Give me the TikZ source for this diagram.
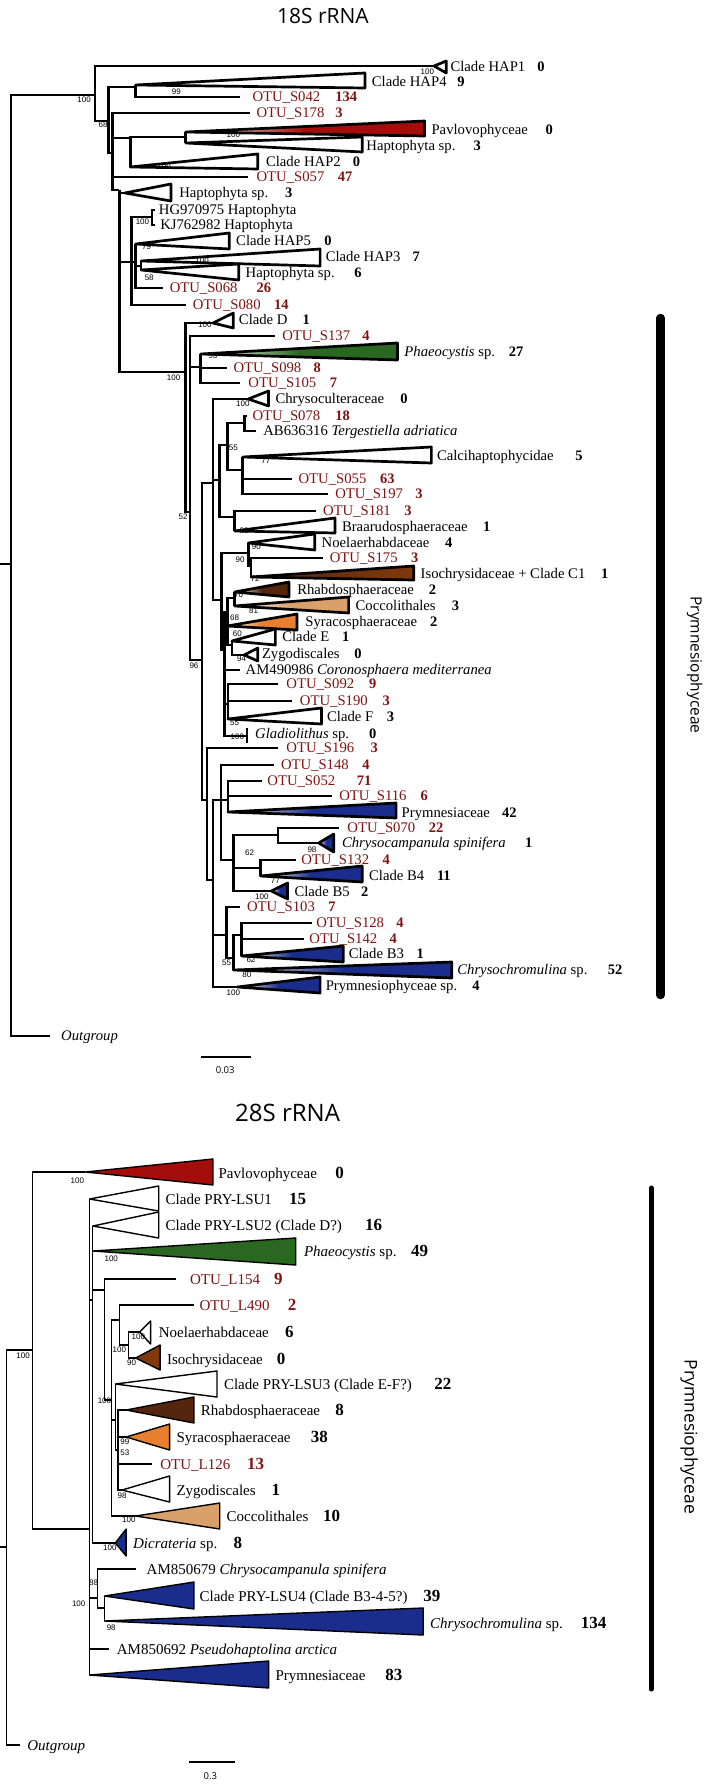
\documentclass[tikz,border=0pt]{standalone}
\usepackage{fontspec}
\setmainfont{Liberation Serif}
\newfontfamily\bsfont{Liberation Sans}
\newfontfamily\ttlfont{Open Sans}
\newfontfamily\grpfont{Open Sans}
\usetikzlibrary{positioning}

\definecolor{otured}{RGB}{128,18,18}
\definecolor{pavred}{RGB}{165,12,12}
\definecolor{phagreen}{RGB}{42,104,34}
\definecolor{isobrown}{RGB}{128,56,14}
\definecolor{rhabrown}{RGB}{84,38,14}
\definecolor{coctan}{RGB}{218,160,105}
\definecolor{syrorange}{RGB}{232,126,48}
\definecolor{prmblue}{RGB}{26,44,140}

\begin{document}
\begin{tikzpicture}[
        x=1.3565pt, y=-1pt,
        br/.style={line width=2.7pt, line join=miter},
        tri/.style={line width=2.7pt, line join=round},
        brb/.style={line width=1.1pt, line join=miter},
        trib/.style={line width=1.4pt, line join=round},
        grad/.style={left color=white, right color=#1, middle color=#1},
        lab/.style={anchor=base west, inner sep=0pt, yshift=-4.9pt, font=\fontsize{14.7}{15}\selectfont},
        otu/.style={lab, text=otured},
        num/.style={lab, font=\fontsize{14.5}{15}\selectfont\bfseries},
        otunum/.style={num, text=otured},
        labb/.style={anchor=base west, inner sep=0pt, yshift=-5pt, font=\fontsize{15}{16}\selectfont},
        otub/.style={labb, text=otured},
        numb/.style={labb, font=\fontsize{17}{18}\selectfont\bfseries},
        otunumb/.style={numb, text=otured},
        bs/.style={inner sep=0pt, font=\bsfont\fontsize{8}{9}\selectfont},
        ttl/.style={inner sep=0pt, font=\ttlfont\fontsize{21}{22}\selectfont},
        grp/.style={inner sep=0pt, rotate=-90, font=\grpfont\fontsize{15.5}{16}\selectfont},
        scl/.style={inner sep=0pt, font=\ttlfont\fontsize{9.5}{10}\selectfont}
    ]
    \useasboundingbox (0,0) rectangle (522.67,1784);

    % ================= 18S rRNA =================
    \node[ttl] (t18) at (238,16) {18S rRNA};

    % internal nodes
    \coordinate (Rin) at (0,564);
    \coordinate (R) at (8,564);
    \coordinate (A) at (70,95);
    \coordinate (B) at (80,121);
    \coordinate (C) at (100,87);
    \coordinate (D) at (83,153);
    \coordinate (F) at (96,138);
    \coordinate (E) at (137,137);
    \coordinate (H) at (88,190);
    \coordinate (J) at (97,262);
    \coordinate (K) at (112,217);
    \coordinate (L) at (100,262);
    \coordinate (M) at (104,266);
    \coordinate (P0) at (137,372);
    \coordinate (P1) at (140,512);
    \coordinate (Q) at (148,367);
    \coordinate (X96) at (149,660);
    \coordinate (CH) at (157,483);
    \coordinate (CH2) at (162,480);
    \coordinate (T1) at (167.5,445);
    \coordinate (TA) at (180,423);
    \coordinate (CA) at (179,470);
    \coordinate (T2) at (173,517);
    \coordinate (CH3) at (163.5,600);
    \coordinate (NI) at (183,553);
    \coordinate (NI2) at (185,566);
    \coordinate (CR2) at (165.5,650);
    \coordinate (CR) at (167.5,612);
    \coordinate (RC) at (173,598);
    \coordinate (EZ) at (171,645);
    \coordinate (FG) at (168,704);
    \coordinate (XL) at (152.5,800);
    \coordinate (X2) at (157,880);
    \coordinate (G2) at (163,800);
    \coordinate (G2b) at (168,800);
    \coordinate (BN) at (172,860);
    \coordinate (N1) at (205,835);
    \coordinate (N2) at (192,868);
    \coordinate (G3) at (167,935);
    \coordinate (G4) at (172,958);
    \coordinate (G5) at (178,935);

    % tips
    \coordinate (og) at (37,1036);
    \coordinate (s042) at (177,97);
    \coordinate (s178) at (184,113);
    \coordinate (s057) at (183,177);
    \coordinate (hg) at (114,210);
    \coordinate (kj) at (114,225);
    \coordinate (s068) at (120,288);
    \coordinate (s080) at (137,305);
    \coordinate (s137) at (203,336);
    \coordinate (s098) at (167,368);
    \coordinate (s105) at (177,383);
    \coordinate (s078) at (182,416);
    \coordinate (ab63) at (189,431);
    \coordinate (s055) at (215,479);
    \coordinate (s197) at (242,494);
    \coordinate (s181) at (233,511);
    \coordinate (s175) at (238,558);
    \coordinate (am49) at (177,670);
    \coordinate (s092) at (205,684);
    \coordinate (s190) at (215,701);
    \coordinate (glad) at (182,736);
    \coordinate (s196) at (205,748);
    \coordinate (s148) at (202,765);
    \coordinate (s052) at (193,781);
    \coordinate (s116) at (245,796);
    \coordinate (s070) at (250,828);
    \coordinate (s132) at (218,860);
    \coordinate (s103) at (177,907);
    \coordinate (s128) at (230,923);
    \coordinate (s142) at (224,939);

    % collapsed clades (apex)
    \coordinate (hap1) at (320,66);
    \coordinate (hap4) at (100,85);
    \coordinate (pav) at (137,132);
    \coordinate (hapa) at (137,143);
    \coordinate (hap2) at (96,167);
    \coordinate (hapb) at (92,193);
    \coordinate (hap5) at (100,244);
    \coordinate (hap3) at (104,261);
    \coordinate (hap6) at (104,270);
    \coordinate (cld) at (157,323);
    \coordinate (pha) at (148,354);
    \coordinate (chc) at (183,399);
    \coordinate (cal) at (179,457);
    \coordinate (bra) at (173,531);
    \coordinate (noe) at (183,543);
    \coordinate (iso) at (185,577);
    \coordinate (rha) at (173,592);
    \coordinate (coc) at (173,606);
    \coordinate (syr) at (167.5,626);
    \coordinate (cle) at (171,641);
    \coordinate (zyg) at (180,655);
    \coordinate (clf) at (168,719);
    \coordinate (pry) at (168,812);
    \coordinate (ccs) at (235,843);
    \coordinate (cb4) at (192,876);
    \coordinate (cb5) at (200,891);
    \coordinate (cb3) at (178,956);
    \coordinate (chr) at (172,970);
    \coordinate (pys) at (175,987);

    % branches
    \draw[br] (Rin) -- (R);
    \draw[br] (R) |- (A);
    \draw[br] (R) |- (og);
    \draw[br] (A) |- (hap1);
    \draw[br] (A) |- (B);
    \draw[br] (B) |- (C);
    \draw[br] (B) |- (D);
    \draw[br] (C) |- (hap4);
    \draw[br] (C) |- (s042);
    \draw[br] (D) |- (s178);
    \draw[br] (D) |- (F);
    \draw[br] (D) |- (s057);
    \draw[br] (D) |- (H);
    \draw[br] (F) |- (E);
    \draw[br] (F) |- (hap2);
    \draw[br] (E) |- (pav);
    \draw[br] (E) |- (hapa);
    \draw[br] (H) |- (hapb);
    \draw[br] (H) |- (J);
    \draw[br] (H) |- (P0);
    \draw[br] (J) |- (K);
    \draw[br] (J) |- (L);
    \draw[br] (J) |- (s080);
    \draw[br] (K) |- (hg);
    \draw[br] (K) |- (kj);
    \draw[br] (L) |- (hap5);
    \draw[br] (L) |- (M);
    \draw[br] (L) |- (s068);
    \draw[br] (M) |- (hap3);
    \draw[br] (M) |- (hap6);
    \draw[br] (P0) |- (cld);
    \draw[br] (P0) |- (P1);
    \draw[br] (P1) |- (s137);
    \draw[br] (P1) |- (Q);
    \draw[br] (P1) |- (X96);
    \draw[br] (Q) |- (pha);
    \draw[br] (Q) |- (s098);
    \draw[br] (Q) |- (s105);
    \draw[br] (X96) |- (CH);
    \draw[br] (X96) |- (XL);
    \draw[br] (CH) |- (chc);
    \draw[br] (CH) |- (CH2);
    \draw[br] (CH) |- (CH3);
    \draw[br] (CH2) |- (T1);
    \draw[br] (CH2) |- (T2);
    \draw[br] (T1) |- (TA);
    \draw[br] (T1) |- (CA);
    \draw[br] (TA) |- (s078);
    \draw[br] (TA) |- (ab63);
    \draw[br] (CA) |- (cal);
    \draw[br] (CA) |- (s055);
    \draw[br] (CA) |- (s197);
    \draw[br] (T2) |- (s181);
    \draw[br] (T2) |- (bra);
    \draw[br] (CH3) |- (NI);
    \draw[br] (CH3) |- (CR2);
    \draw[br] (NI) |- (noe);
    \draw[br] (NI) |- (NI2);
    \draw[br] (NI2) |- (s175);
    \draw[br] (NI2) |- (iso);
    \draw[br] (CR2) |- (CR);
    \draw[br] (CR2) |- (am49);
    \draw[br] (CR2) |- (FG);
    \draw[br] (CR2) |- (glad);
    \draw[br] (CR) |- (RC);
    \draw[br] (CR) |- (syr);
    \draw[br] (CR) |- (EZ);
    \draw[br] (RC) |- (rha);
    \draw[br] (RC) |- (coc);
    \draw[br] (EZ) |- (cle);
    \draw[br] (EZ) |- (zyg);
    \draw[br] (FG) |- (s092);
    \draw[br] (FG) |- (s190);
    \draw[br] (FG) |- (clf);
    \draw[br] (XL) |- (s196);
    \draw[br] (XL) |- (X2);
    \draw[br] (X2) |- (G2);
    \draw[br] (X2) |- (G3);
    \draw[br] (X2) |- (pys);
    \draw[br] (G2) |- (s148);
    \draw[br] (G2) |- (G2b);
    \draw[br] (G2) |- (BN);
    \draw[br] (G2b) |- (s052);
    \draw[br] (G2b) |- (s116);
    \draw[br] (G2b) |- (pry);
    \draw[br] (BN) |- (N1);
    \draw[br] (BN) |- (N2);
    \draw[br] (BN) |- (cb5);
    \draw[br] (N1) |- (s070);
    \draw[br] (N1) |- (ccs);
    \draw[br] (N2) |- (s132);
    \draw[br] (N2) |- (cb4);
    \draw[br] (G3) |- (s103);
    \draw[br] (G3) |- (G4);
    \draw[br] (G4) |- (G5);
    \draw[br] (G4) |- (chr);
    \draw[br] (G5) |- (s128);
    \draw[br] (G5) |- (s142);
    \draw[br] (G5) |- (cb3);
    \coordinate (glad1) at (182,728);
    \coordinate (glad2) at (182,743);
    \draw[br] (glad1) -- (glad2);

    % triangles
    \draw[tri, fill=white] (hap1) -- (329,61) -- (329,73) -- cycle;
    \draw[tri, fill=white] (hap4) -- (269,73) -- (269,88) -- cycle;
    \draw[tri, grad=pavred] (pav) -- (313,121) -- (313,136) -- cycle;
    \draw[tri, fill=white] (hapa) -- (267,137) -- (267,152) -- cycle;
    \draw[tri, fill=white] (hap2) -- (190,154) -- (190,169) -- cycle;
    \draw[tri, fill=white] (hapb) -- (126,184) -- (126,201) -- cycle;
    \draw[tri, fill=white] (hap5) -- (169,233) -- (169,249) -- cycle;
    \draw[tri] (hap3) -- (236,249) -- (236,266) -- cycle;
    \draw[tri] (hap6) -- (176,264) -- (176,280) -- cycle;
    \draw[tri, fill=white] (cld) -- (172,313) -- (172,328) -- cycle;
    \draw[tri, grad=phagreen] (pha) -- (293,343) -- (293,360) -- cycle;
    \draw[tri, fill=white] (chc) -- (198,391) -- (198,406) -- cycle;
    \draw[tri, fill=white] (cal) -- (318,447) -- (318,463) -- cycle;
    \draw[tri] (bra) -- (247,518) -- (247,533) -- cycle;
    \draw[tri] (noe) -- (232,534) -- (232,550) -- cycle;
    \draw[tri, left color=rhabrown, right color=isobrown] (iso) -- (305,566) -- (305,580) -- cycle;
    \draw[tri, grad=rhabrown] (rha) -- (213,582) -- (213,597) -- cycle;
    \draw[tri, grad=coctan] (coc) -- (257,597) -- (257,613) -- cycle;
    \draw[tri, grad=syrorange] (syr) -- (219,614) -- (219,630) -- cycle;
    \draw[tri, fill=white] (cle) -- (203,629) -- (203,645) -- cycle;
    \draw[tri, fill=white] (zyg) -- (190,648) -- (190,661) -- cycle;
    \draw[tri, fill=white] (clf) -- (237,708) -- (237,724) -- cycle;
    \draw[tri, grad=prmblue] (pry) -- (292,803) -- (292,818) -- cycle;
    \draw[tri, grad=prmblue] (ccs) -- (246,834) -- (246,852) -- cycle;
    \draw[tri, grad=prmblue] (cb4) -- (267,866) -- (267,882) -- cycle;
    \draw[tri, grad=prmblue] (cb5) -- (212,883) -- (212,899) -- cycle;
    \draw[tri, grad=prmblue] (cb3) -- (253,946) -- (253,962) -- cycle;
    \draw[tri, grad=prmblue] (chr) -- (333,962) -- (333,978) -- cycle;
    \draw[tri, grad=prmblue] (pys) -- (236,977) -- (236,993) -- cycle;

    % labels
    \node[lab] (hap1l) at (332,67) {Clade HAP1};      \node[num] at (396,67) {0};
    \node[lab] (hap4l) at (274,82) {Clade HAP4};      \node[num] at (337,82) {9};
    \node[otu] (s042l) at (186,97) {OTU\_S042};       \node[otunum] at (247,97) {134};
    \node[otu] (s178l) at (189,113) {OTU\_S178};      \node[otunum] at (247,113) {3};
    \node[lab] (pavl) at (318,130) {Pavlovophyceae};  \node[num] at (402,130) {0};
    \node[lab] (hapal) at (270,146) {Haptophyta sp.}; \node[num] at (349,146) {3};
    \node[lab] (hap2l) at (196,162) {Clade HAP2};     \node[num] at (260,162) {0};
    \node[otu] (s057l) at (189,177) {OTU\_S057};      \node[otunum] at (249,177) {47};
    \node[lab] (hapbl) at (132,193) {Haptophyta sp.}; \node[num] at (210,193) {3};
    \node[lab] (hgl) at (117,210) {HG970975 Haptophyta};
    \node[lab] (kjl) at (118,225) {KJ762982 Haptophyta};
    \node[lab] (hap5l) at (174,241) {Clade HAP5};     \node[num] at (239,241) {0};
    \node[lab] (hap3l) at (240,257) {Clade HAP3};     \node[num] at (304,257) {7};
    \node[lab] (hap6l) at (181,273) {Haptophyta sp.}; \node[num] at (261,273) {6};
    \node[otu] (s068l) at (125,288) {OTU\_S068};      \node[otunum] at (189,288) {26};
    \node[otu] (s080l) at (142,305) {OTU\_S080};      \node[otunum] at (202,305) {14};
    \node[lab] (cldl) at (176,320) {Clade D};         \node[num] at (223,320) {1};
    \node[otu] (s137l) at (208,336) {OTU\_S137};      \node[otunum] at (267,336) {4};
    \node[lab] (phal) at (298,352) {\textit{Phaeocystis} sp.}; \node[num] at (375,352) {27};
    \node[otu] (s098l) at (172,368) {OTU\_S098};      \node[otunum] at (231,368) {8};
    \node[otu] (s105l) at (183,383) {OTU\_S105};      \node[otunum] at (243,383) {7};
    \node[lab] (chcl) at (203,399) {Chrysoculteraceae}; \node[num] at (295,399) {0};
    \node[otu] (s078l) at (186,416) {OTU\_S078};      \node[otunum] at (247,416) {18};
    \node[lab] (ab63l) at (194,431) {AB636316 \textit{Tergestiella adriatica}};
    \node[lab] (call) at (322,456) {Calcihaptophycidae}; \node[num] at (424,456) {5};
    \node[otu] (s055l) at (220,479) {OTU\_S055};      \node[otunum] at (280,479) {63};
    \node[otu] (s197l) at (247,494) {OTU\_S197};      \node[otunum] at (306,494) {3};
    \node[otu] (s181l) at (238,511) {OTU\_S181};      \node[otunum] at (298,511) {3};
    \node[lab] (bral) at (252,527) {Braarudosphaeraceae}; \node[num] at (356,527) {1};
    \node[lab] (noel) at (237,543) {Noelaerhabdaceae}; \node[num] at (328,543) {4};
    \node[otu] (s175l) at (243,558) {OTU\_S175};      \node[otunum] at (303,558) {3};
    \node[lab] (isol) at (310,574) {Isochrysidaceae + Clade C1}; \node[num] at (443,574) {1};
    \node[lab] (rhal) at (219,590) {Rhabdosphaeraceae}; \node[num] at (316,590) {2};
    \node[lab] (cocl) at (262,606) {Coccolithales};   \node[num] at (333,606) {3};
    \node[lab] (syrl) at (225,622) {Syracosphaeraceae}; \node[num] at (317,622) {2};
    \node[lab] (clel) at (208,637) {Clade E};         \node[num] at (252,637) {1};
    \node[lab] (zygl) at (193,654) {Zygodiscales};    \node[num] at (261,654) {0};
    \node[lab] (am49l) at (181,670) {AM490986 \textit{Coronosphaera mediterranea}};
    \node[otu] (s092l) at (211,684) {OTU\_S092};      \node[otunum] at (272,684) {9};
    \node[otu] (s190l) at (221,701) {OTU\_S190};      \node[otunum] at (282,701) {3};
    \node[lab] (clfl) at (241,717) {Clade F};         \node[num] at (285,717) {3};
    \node[lab] (gladl) at (188,734) {\textit{Gladiolithus} sp.}; \node[num] at (272,734) {0};
    \node[otu] (s196l) at (211,748) {OTU\_S196};      \node[otunum] at (273,748) {3};
    \node[otu] (s148l) at (207,765) {OTU\_S148};      \node[otunum] at (267,765) {4};
    \node[otu] (s052l) at (197,781) {OTU\_S052};      \node[otunum] at (263,781) {71};
    \node[otu] (s116l) at (250,796) {OTU\_S116};      \node[otunum] at (310,796) {6};
    \node[lab] (pryl) at (296,813) {Prymnesiaceae};   \node[num] at (370,813) {42};
    \node[otu] (s070l) at (256,828) {OTU\_S070};      \node[otunum] at (316,828) {22};
    \node[lab] (ccsl) at (252,843) {\textit{Chrysocampanula spinifera}}; \node[num] at (387,843) {1};
    \node[otu] (s132l) at (222,860) {OTU\_S132};      \node[otunum] at (282,860) {4};
    \node[lab] (cb4l) at (272,876) {Clade B4};        \node[num] at (322,876) {11};
    \node[lab] (cb5l) at (217,892) {Clade B5};        \node[num] at (266,892) {2};
    \node[otu] (s103l) at (182,907) {OTU\_S103};      \node[otunum] at (242,907) {7};
    \node[otu] (s128l) at (233,923) {OTU\_S128};      \node[otunum] at (292,923) {4};
    \node[otu] (s142l) at (228,939) {OTU\_S142};      \node[otunum] at (287,939) {4};
    \node[lab] (cb3l) at (257,954) {Clade B3};        \node[num] at (307,954) {1};
    \node[lab] (chrl) at (337,970) {\textit{Chrysochromulina} sp.}; \node[num] at (448,970) {52};
    \node[lab] (pysl) at (240,986) {Prymnesiophyceae sp.}; \node[num] at (348,986) {4};
    \node[lab] (ogl) at (45,1036) {\textit{Outgroup}};

    % bootstrap values
    \node[bs] at (62,100) {100};
    \node[bs] at (315,72) {100};
    \node[bs] at (130,92) {99};
    \node[bs] at (76,125) {68};
    \node[bs] at (172,135) {100};
    \node[bs] at (121,167) {100};
    \node[bs] at (105,222) {100};
    \node[bs] at (108,247) {79};
    \node[bs] at (149,261) {100};
    \node[bs] at (110,278) {58};
    \node[bs] at (151,325) {100};
    \node[bs] at (128,378) {100};
    \node[bs] at (157,356) {93};
    \node[bs] at (179,404) {100};
    \node[bs] at (172,448) {55};
    \node[bs] at (196,461) {77};
    \node[bs] at (135,517) {52};
    \node[bs] at (180,531) {88};
    \node[bs] at (189,547) {90};
    \node[bs] at (177,560) {90};
    \node[bs] at (188,579) {72};
    \node[bs] at (176,595) {70};
    \node[bs] at (187,611) {81};
    \node[bs] at (173,618) {68};
    \node[bs] at (175,634) {60};
    \node[bs] at (178,659) {94};
    \node[bs] at (143,666) {96};
    \node[bs] at (173,723) {55};
    \node[bs] at (175,737) {100};
    \node[bs] at (184,853) {62};
    \node[bs] at (230,850) {98};
    \node[bs] at (203,881) {77};
    \node[bs] at (193,897) {100};
    \node[bs] at (167,963) {55};
    \node[bs] at (185,960) {62};
    \node[bs] at (182,975) {80};
    \node[bs] at (172,993) {100};

    % group bar
    \coordinate (bar1a) at (487,318);
    \coordinate (bar1b) at (487,995);
    \draw[line width=8.5pt, line cap=round] (bar1a) -- (bar1b);
    \node[grp] (grp1) at (512,665) {Prymnesiophyceae};

    % scale
    \coordinate (sc1a) at (148,1057);
    \coordinate (sc1b) at (185,1057);
    \draw[line width=2.6pt] (sc1a) -- (sc1b);
    \node[scl] (sc1l) at (166,1070) {0.03};

    % ================= 28S rRNA =================
    \node[ttl, font=\ttlfont\fontsize{24}{25}\selectfont] (t28) at (212,1113) {28S rRNA};

    % internal nodes
    \coordinate (R2in) at (0,1547);
    \coordinate (R2) at (5,1547);
    \coordinate (U) at (24,1350);
    \coordinate (I0) at (66,1529);
    \coordinate (I1) at (68.5,1300);
    \coordinate (I2) at (77,1290);
    \coordinate (I3) at (82,1400);
    \coordinate (I4) at (88,1320);
    \coordinate (I6) at (95,1345);
    \coordinate (I5) at (85,1420);
    \coordinate (I7) at (87,1450);
    \coordinate (IB) at (72,1598);
    \coordinate (IB2) at (77,1608);

    % tips
    \coordinate (og2) at (15,1745);
    \coordinate (l154) at (130,1279);
    \coordinate (l490) at (143,1305);
    \coordinate (l126) at (112,1464);
    \coordinate (am79) at (100,1569);
    \coordinate (am92) at (80,1649);

    % collapsed clades (apex)
    \coordinate (pav2) at (63,1172);
    \coordinate (lsu1) at (66,1199);
    \coordinate (lsu2) at (68.5,1226);
    \coordinate (pha2) at (68.5,1251);
    \coordinate (noe2) at (103,1332);
    \coordinate (iso2) at (100,1358);
    \coordinate (lsu3) at (85,1384);
    \coordinate (rha2) at (93,1410);
    \coordinate (syr2) at (93,1437);
    \coordinate (zyg2) at (90,1490);
    \coordinate (coc2) at (100,1516);
    \coordinate (dic) at (85,1543);
    \coordinate (lsu4) at (77,1596);
    \coordinate (chr2) at (77,1621);
    \coordinate (pry2) at (66,1675);

    % branches
    \draw[brb] (R2in) -- (R2);
    \draw[brb] (R2) |- (U);
    \draw[brb] (R2) |- (og2);
    \draw[brb] (U) |- (pav2);
    \draw[brb] (U) |- (I0);
    \draw[brb] (I0) |- (lsu1);
    \draw[brb] (I0) |- (I1);
    \draw[brb] (I0) |- (IB);
    \draw[brb] (I0) |- (am92);
    \draw[brb] (I0) |- (pry2);
    \draw[brb] (I1) |- (lsu2);
    \draw[brb] (I1) |- (pha2);
    \draw[brb] (I1) |- (I2);
    \draw[brb] (I1) |- (dic);
    \draw[brb] (I2) |- (l154);
    \draw[brb] (I2) |- (I3);
    \draw[brb] (I3) |- (I4);
    \draw[brb] (I3) |- (I5);
    \draw[brb] (I3) |- (coc2);
    \draw[brb] (I4) |- (l490);
    \draw[brb] (I4) |- (I6);
    \draw[brb] (I6) |- (noe2);
    \draw[brb] (I6) |- (iso2);
    \draw[brb] (I5) |- (lsu3);
    \draw[brb] (I5) |- (I7);
    \draw[brb] (I7) |- (rha2);
    \draw[brb] (I7) |- (syr2);
    \draw[brb] (I7) |- (l126);
    \draw[brb] (I7) |- (zyg2);
    \draw[brb] (IB) |- (am79);
    \draw[brb] (IB) |- (IB2);
    \draw[brb] (IB2) |- (lsu4);
    \draw[brb] (IB2) |- (chr2);

    % triangles
    \draw[trib, fill=pavred] (pav2) -- (157,1159) -- (157,1185) -- cycle;
    \draw[trib, fill=white] (lsu1) -- (117,1186) -- (117,1211) -- cycle;
    \draw[trib, fill=white] (lsu2) -- (117,1212) -- (117,1238) -- cycle;
    \draw[trib, fill=phagreen] (pha2) -- (218,1238) -- (218,1265) -- cycle;
    \draw[trib, fill=white] (noe2) -- (111,1321) -- (111,1344) -- cycle;
    \draw[trib, fill=isobrown] (iso2) -- (118,1345) -- (118,1370) -- cycle;
    \draw[trib, fill=white] (lsu3) -- (160,1371) -- (160,1397) -- cycle;
    \draw[trib, fill=rhabrown] (rha2) -- (143,1397) -- (143,1423) -- cycle;
    \draw[trib, fill=syrorange] (syr2) -- (125,1424) -- (125,1450) -- cycle;
    \draw[trib, fill=white] (zyg2) -- (125,1476) -- (125,1502) -- cycle;
    \draw[trib, fill=coctan] (coc2) -- (162,1503) -- (162,1529) -- cycle;
    \draw[trib, fill=prmblue] (dic) -- (93,1529) -- (93,1556) -- cycle;
    \draw[trib, fill=prmblue] (lsu4) -- (143,1582) -- (143,1609) -- cycle;
    \draw[trib, fill=prmblue] (chr2) -- (312,1608) -- (312,1635) -- cycle;
    \draw[trib, fill=prmblue] (pry2) -- (198,1661) -- (198,1688) -- cycle;

    % labels
    \node[labb] (pav2l) at (161,1173) {Pavlovophyceae};   \node[numb] at (247,1173) {0};
    \node[labb] (lsu1l) at (122,1199) {Clade PRY-LSU1};   \node[numb] at (213,1199) {15};
    \node[labb] (lsu2l) at (122,1225) {Clade PRY-LSU2 (Clade D?)}; \node[numb] at (269,1225) {16};
    \node[labb] (pha2l) at (224,1251) {\textit{Phaeocystis} sp.}; \node[numb] at (303,1251) {49};
    \node[otub] (l154l) at (140,1279) {OTU\_L154};        \node[otunumb] at (202,1279) {9};
    \node[otub] (l490l) at (147,1305) {OTU\_L490};        \node[otunumb] at (212,1305) {2};
    \node[labb] (noe2l) at (117,1332) {Noelaerhabdaceae}; \node[numb] at (210,1332) {6};
    \node[labb] (iso2l) at (123,1359) {Isochrysidaceae};  \node[numb] at (204,1359) {0};
    \node[labb] (lsu3l) at (165,1384) {Clade PRY-LSU3 (Clade E-F?)}; \node[numb] at (320,1384) {22};
    \node[labb] (rha2l) at (148,1410) {Rhabdosphaeraceae}; \node[numb] at (247,1410) {8};
    \node[labb] (syr2l) at (130,1437) {Syracosphaeraceae}; \node[numb] at (229,1437) {38};
    \node[otub] (l126l) at (118,1464) {OTU\_L126};        \node[otunumb] at (182,1464) {13};
    \node[labb] (zyg2l) at (130,1490) {Zygodiscales};     \node[numb] at (200,1490) {1};
    \node[labb] (coc2l) at (167,1516) {Coccolithales};    \node[numb] at (238,1516) {10};
    \node[labb] (dicl) at (98,1543) {\textit{Dicrateria} sp.}; \node[numb] at (172,1543) {8};
    \node[labb] (am79l) at (108,1569) {AM850679 \textit{Chrysocampanula spinifera}};
    \node[labb] (lsu4l) at (147,1596) {Clade PRY-LSU4 (Clade B3-4-5?)}; \node[numb] at (312,1596) {39};
    \node[labb] (chr2l) at (317,1623) {\textit{Chrysochromulina} sp.}; \node[numb] at (428,1623) {134};
    \node[labb] (am92l) at (86,1649) {AM850692 \textit{Pseudohaptolina arctica}};
    \node[labb] (pry2l) at (203,1675) {Prymnesiaceae};    \node[numb] at (284,1675) {83};
    \node[labb] (og2l) at (20,1745) {\textit{Outgroup}};

    % bootstrap values
    \node[bs] at (57,1181) {100};
    \node[bs] at (17,1356) {100};
    \node[bs] at (82,1259) {100};
    \node[bs] at (102,1337) {100};
    \node[bs] at (88,1350) {100};
    \node[bs] at (97,1363) {90};
    \node[bs] at (77,1401) {100};
    \node[bs] at (92,1442) {99};
    \node[bs] at (92,1453) {53};
    \node[bs] at (90,1496) {98};
    \node[bs] at (95,1520) {100};
    \node[bs] at (81,1548) {100};
    \node[bs] at (69,1583) {88};
    \node[bs] at (58,1604) {100};
    \node[bs] at (82,1628) {98};

    % group bar
    \coordinate (bar2a) at (480,1188);
    \coordinate (bar2b) at (480,1689);
    \draw[line width=5pt, line cap=round] (bar2a) -- (bar2b);
    \node[grp, font=\grpfont\fontsize{17.5}{18}\selectfont] (grp2) at (508,1437) {Prymnesiophyceae};

    % scale
    \coordinate (sc2a) at (139,1762);
    \coordinate (sc2b) at (173,1762);
    \draw[line width=1.5pt] (sc2a) -- (sc2b);
    \node[scl] (sc2l) at (155,1776) {0.3};

\end{tikzpicture}
\end{document}
